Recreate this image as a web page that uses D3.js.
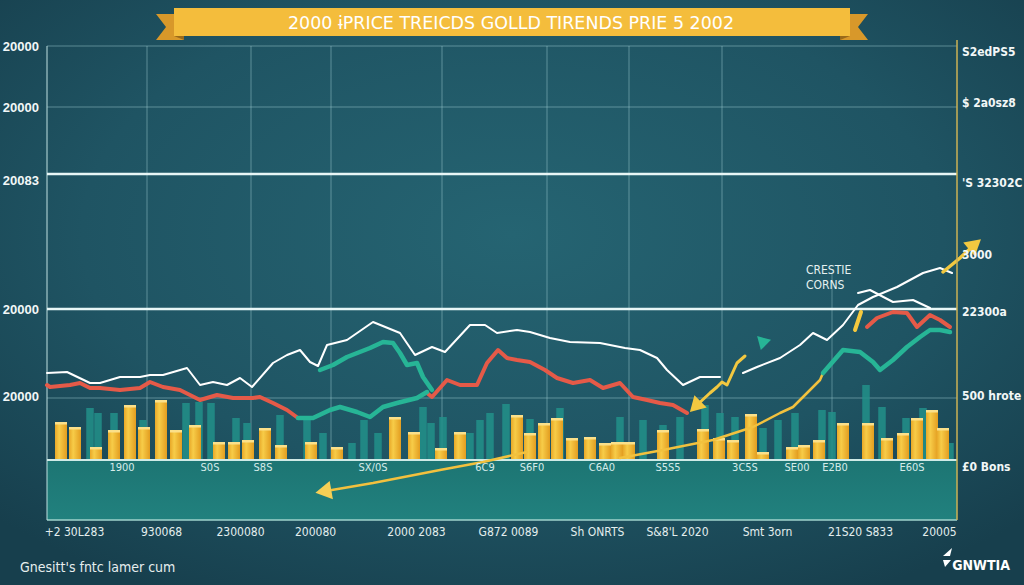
<!DOCTYPE html>
<meta charset="utf-8">
<html>
<head>
<style>
  html, body { margin: 0; padding: 0; background: #1b4755; }
  svg { display: block; }
  text { font-family: "DejaVu Sans Condensed", "Liberation Sans Narrow", "Roboto", sans-serif; }
</style>
</head>
<body>
<div id="chart"></div>
<script src="https://d3js.org/d3.v7.min.js"></script>
<script>
// chart data (period = x unit, value = y unit)
let titleText = '2000 \u0268PRICE TREICDS GOLLD TIRENDS PRIE 5 2002';
let leftTicks = ['20000', '20000', '20083', '20000', '20000'];
let leftTickValues = [2070, 1765, 1400, 755, 320];
let rightTicks = ['S2edPS5', '$ 2a0sz8', "'S 32302C", '3000', '22300a', '500 hrote', '\u00a30 Bons'];
let rightTickValues = [2040, 1785, 1385, 1025, 740, 320, -35];
let bottomLabels = ['+2 30L283', '930068', '2300080', '200080', '2000 2083', 'G872 0089',
                    'Sh ONRTS', 'S&8\'L 2020', 'Smt 3orn', '21S20 S833', '20005'];
let bottomPeriods = [2.7, 11.4, 19.3, 26.8, 36.9, 46.1, 55, 63, 72, 81.3, 89.2];
let bandLabels = ['1900', 'S0S', 'S8S', 'SX/0S', '6C9', 'S6F0', 'C6A0', 'S5S5', '3C5S', 'SE00', 'E2B0', 'E60S'];
let bandPeriods = [7.5, 16.3, 21.6, 32.6, 43.8, 48.5, 55.5, 62.1, 69.8, 75, 78.8, 86.5];
let gridPeriods = [0, 10, 20.4, 28.4, 39.5, 50, 58.2, 67.5];
let gridValues = [2070, 1765, 1430, 755, 310];

let yellowBars = [
  [1.4, 190], [2.8, 165], [4.9, 65], [6.7, 150], [8.3, 275], [9.7, 165], [11.4, 300], [12.9, 150],
  [14.8, 175], [17.2, 90], [18.7, 90], [20.1, 100], [21.8, 160], [23.4, 75], [26.4, 90], [29.0, 65],
  [34.8, 215], [36.7, 140], [39.4, 60], [41.3, 140], [47.0, 225], [48.3, 135], [49.7, 185], [51.0, 210],
  [52.5, 110], [54.3, 115], [55.8, 85], [57.0, 90], [58.2, 90], [61.6, 150], [65.6, 155], [67.2, 110],
  [68.6, 100], [70.4, 230], [71.6, 40], [74.5, 65], [75.7, 75], [77.2, 100], [79.6, 185], [82.1, 185],
  [84.0, 110], [85.6, 135], [87.0, 210], [88.5, 250], [89.6, 160]
];
let tealBars = [
  [4.3, 260], [5.1, 235], [6.7, 235], [9.6, 200], [13.9, 285], [15.2, 290], [16.4, 285], [18.9, 210],
  [20.0, 185], [23.3, 225], [26.0, 210], [27.6, 135], [30.5, 85], [31.7, 200], [33.1, 135], [37.6, 265],
  [38.4, 185], [39.6, 215], [42.3, 135], [43.3, 200], [44.3, 235], [45.9, 280], [48.3, 205], [51.3, 260],
  [57.3, 215], [59.6, 200], [61.6, 175], [63.3, 215], [65.8, 275], [67.3, 235], [68.8, 215], [71.6, 160],
  [73.1, 200], [74.8, 235], [77.5, 250], [78.5, 240], [81.9, 375], [83.5, 265], [85.9, 210], [87.6, 260],
  [90.3, 85]
];

let whiteA = [[0, 435], [2.0, 440], [4.3, 385], [5.3, 385], [7.3, 415], [9.3, 415], [10.3, 425], [11.6, 425],
  [14.0, 460], [15.3, 375], [16.6, 390], [18.0, 375], [19.3, 410], [20.5, 365], [22.6, 485], [24.0, 525],
  [25.3, 550], [26.3, 490], [27.1, 470], [28.0, 575], [30.0, 600], [32.6, 690], [35.3, 635], [36.8, 525],
  [38.5, 565], [39.8, 540], [42.3, 675], [43.8, 675], [45.0, 635], [47.0, 650], [48.3, 640], [50.3, 610],
  [52.3, 590], [55.3, 585], [57.8, 560], [59.3, 550], [61.0, 510], [62.0, 450], [63.6, 375], [65.3, 415],
  [67.3, 415]];
let whiteB = [[69.6, 435], [71.0, 465], [73.3, 510], [75.3, 575], [76.6, 635], [78.0, 600], [79.6, 675],
  [81.1, 775], [82.6, 815], [85.0, 865], [87.6, 935], [89.3, 960], [90.5, 935]];
let whiteC = [[81.1, 835], [82.3, 850], [84.6, 790], [86.6, 800], [88.3, 760]];
let redA = [[0, 375], [0.3, 365], [2.3, 375], [3.3, 385], [4.3, 360], [5.3, 360], [7.3, 350], [9.3, 360],
  [10.3, 390], [11.6, 365], [13.3, 350], [15.3, 300], [17.0, 325], [18.6, 310], [20.6, 310], [21.3, 315],
  [22.6, 285], [24.0, 250], [25.1, 210]];
let redB = [[38.0, 335], [38.5, 315], [40.0, 400], [41.3, 375], [43.0, 375], [44.0, 485], [45.1, 550],
  [46.0, 510], [47.0, 500], [48.3, 490], [49.8, 450], [51.0, 410], [52.6, 385], [54.3, 400], [55.6, 360],
  [57.3, 385], [58.6, 315], [60.0, 300], [61.3, 285], [62.6, 275], [64.0, 235]];
let redC = [[82.0, 665], [83.0, 710], [84.6, 740], [86.0, 735], [87.0, 665], [88.3, 725], [89.3, 700], [90.3, 665]];
let tealA = [[25.1, 210], [26.6, 210], [28.3, 250], [29.3, 265], [31.0, 240], [32.3, 215], [33.6, 265],
  [35.0, 285], [37.0, 310], [38.0, 340]];
let tealB = [[27.3, 450], [28.6, 475], [30.0, 515], [32.3, 560], [33.6, 590], [34.6, 585], [35.3, 535],
  [36.0, 475], [37.0, 485], [37.6, 415], [38.5, 350]];
let tealC = [[77.6, 435], [79.6, 550], [81.3, 540], [82.6, 490], [83.3, 450], [84.6, 500], [86.0, 565],
  [87.3, 615], [88.3, 650], [89.3, 650], [90.3, 640]];
let trendA = [[27.9, -155], [32.6, -115], [39.3, -50], [43.6, -10], [48.0, 40]];
let trendB = [[57.3, 10], [61.6, 50], [66.6, 100], [70.6, 165], [73.3, 235], [74.6, 265], [77.3, 400], [77.6, 435]];
let zigzag = [[65.0, 275], [66.3, 335], [67.0, 365], [67.5, 390], [68.0, 375], [69.0, 485], [69.8, 520]];
let spike = [[80.8, 650], [81.4, 740]];
let rightArrow = [[89.6, 940], [91.3, 1010], [92.6, 1070]];

// layout
let svgWidth = 1024;
let svgHeight = 585;
let plotLeft = 47, plotRight = 957, plotTop = 46, baseY = 460, bandBottom = 520;

let x = d3.scaleLinear().domain([0, 91]).range([plotLeft, plotRight]);
let y = d3.scaleLinear().domain([0, 2070]).range([baseY, plotTop]);

let svg = d3.select('#chart').append('svg')
  .attr('width', svgWidth)
  .attr('height', svgHeight);

let defs = svg.append('defs');
let bg = defs.append('radialGradient').attr('id', 'bg').attr('cx', '50%').attr('cy', '40%').attr('r', '70%');
bg.append('stop').attr('offset', '0%').attr('stop-color', '#256472');
bg.append('stop').attr('offset', '60%').attr('stop-color', '#1f5463');
bg.append('stop').attr('offset', '100%').attr('stop-color', '#173f4d');
let gold = defs.append('linearGradient').attr('id', 'gold').attr('x1', 0).attr('x2', 1).attr('y1', 0).attr('y2', 0);
gold.append('stop').attr('offset', '0%').attr('stop-color', '#e8a828');
gold.append('stop').attr('offset', '35%').attr('stop-color', '#f7cc48');
gold.append('stop').attr('offset', '100%').attr('stop-color', '#e39d20');
let band = defs.append('linearGradient').attr('id', 'band').attr('x1', 0).attr('x2', 0).attr('y1', 0).attr('y2', 1);
band.append('stop').attr('offset', '0%').attr('stop-color', '#1d7573');
band.append('stop').attr('offset', '100%').attr('stop-color', '#21817e');

svg.append('rect').attr('width', svgWidth).attr('height', svgHeight).attr('fill', 'url(#bg)');

// band below baseline
svg.append('rect')
  .attr('x', plotLeft).attr('y', baseY)
  .attr('width', plotRight - plotLeft).attr('height', bandBottom - baseY)
  .attr('fill', 'url(#band)');
svg.append('line').attr('x1', plotLeft).attr('x2', plotRight).attr('y1', bandBottom).attr('y2', bandBottom)
  .attr('stroke', '#9fd3cc').attr('stroke-width', 1.5);

// grid
let grid = svg.append('g');
grid.selectAll('.vg').data(gridPeriods).enter().append('line')
  .attr('x1', d => x(d)).attr('x2', d => x(d))
  .attr('y1', plotTop).attr('y2', d => d === 0 ? bandBottom : baseY)
  .attr('stroke', d => d === 0 ? '#bfe0e0' : 'rgba(170,215,220,0.45)')
  .attr('stroke-width', 1);
grid.append('line').attr('x1', x(78.5)).attr('x2', x(78.5)).attr('y1', y(930)).attr('y2', baseY)
  .attr('stroke', 'rgba(170,215,220,0.4)');
grid.selectAll('.hg').data(gridValues).enter().append('line')
  .attr('x1', plotLeft).attr('x2', plotRight)
  .attr('y1', d => y(d)).attr('y2', d => y(d))
  .attr('stroke', (d, i) => (i === 2 || i === 3) ? '#e8f6f6' : 'rgba(170,215,220,0.45)')
  .attr('stroke-width', (d, i) => (i === 2 || i === 3) ? 2.5 : 1);

// bars
let bw = x(1.2) - x(0);
let tw = x(0.75) - x(0);
svg.append('g').selectAll('rect').data(tealBars).enter().append('rect')
  .attr('x', d => x(d[0]) - tw / 2).attr('y', d => y(d[1]))
  .attr('width', tw).attr('height', d => y(0) - y(d[1]))
  .attr('fill', '#22918a').attr('opacity', 0.85);
svg.append('g').selectAll('rect').data(yellowBars).enter().append('rect')
  .attr('x', d => x(d[0]) - bw / 2).attr('y', d => y(d[1]))
  .attr('width', bw).attr('height', d => y(0) - y(d[1]))
  .attr('fill', 'url(#gold)');
svg.append('g').selectAll('rect').data(yellowBars).enter().append('rect')
  .attr('x', d => x(d[0]) - bw / 2).attr('y', d => y(d[1]))
  .attr('width', bw).attr('height', 2.5)
  .attr('fill', '#fbe08a');

svg.append('line').attr('x1', plotLeft).attr('x2', plotRight).attr('y1', baseY).attr('y2', baseY)
  .attr('stroke', '#cfeae6').attr('stroke-width', 2);

// lines
let line = d3.line().x(d => x(d[0])).y(d => y(d[1]));
function drawLine(data, color, w) {
  svg.append('path').datum(data)
    .attr('d', line)
    .attr('fill', 'none')
    .attr('stroke', color)
    .attr('stroke-width', w)
    .attr('stroke-linejoin', 'round')
    .attr('stroke-linecap', 'round');
}
drawLine(trendA, '#f2c13e', 2.5);
drawLine(trendB, '#f2c13e', 2.5);
drawLine(redA, '#e55a48', 4);
drawLine(redB, '#e55a48', 4);
drawLine(redC, '#e55a48', 4);
drawLine(tealA, '#27b596', 4.5);
drawLine(tealB, '#27b596', 4.5);
drawLine(tealC, '#27b596', 4.5);
drawLine(whiteA, '#ffffff', 2);
drawLine(whiteB, '#ffffff', 2);
drawLine(whiteC, '#ffffff', 2);
drawLine(zigzag, '#f2c840', 3);
drawLine(spike, '#f5c93e', 4);
drawLine(rightArrow, '#f2c840', 3.5);

// arrow heads
function arrowHead(p, angle, color, size) {
  svg.append('path')
    .attr('d', d3.symbol().type(d3.symbolTriangle).size(size))
    .attr('transform', `translate(${x(p[0])},${y(p[1])}) rotate(${angle})`)
    .attr('fill', color);
}
arrowHead(trendA[0], -100, '#f6cf55', 150);
arrowHead(zigzag[0], -135, '#f2c840', 130);
arrowHead([71.6, 590], 75, '#27b596', 90);
arrowHead(rightArrow[2], 50, '#f2c840', 140);

// left axis labels
let leftAxis = svg.append('g')
  .attr('transform', `translate(${plotLeft - 5},0)`)
  .call(d3.axisLeft(y).tickValues(leftTickValues).tickFormat((d, i) => leftTicks[i]).tickSize(0));
leftAxis.select('.domain').remove();
leftAxis.selectAll('text')
  .attr('fill', '#f2f7f7').attr('font-size', 13).attr('font-weight', 'bold')
  .style('font-family', '"Liberation Sans", Arial, sans-serif');

// right axis
svg.append('line').attr('x1', plotRight).attr('x2', plotRight).attr('y1', 40).attr('y2', bandBottom)
  .attr('stroke', '#cdb255').attr('stroke-width', 1.5);
let rightAxis = svg.append('g')
  .attr('transform', `translate(${plotRight + 2},0)`)
  .call(d3.axisRight(y).tickValues(rightTickValues).tickFormat((d, i) => rightTicks[i]).tickSize(0));
rightAxis.select('.domain').remove();
rightAxis.selectAll('text')
  .attr('fill', '#f2f7f7').attr('font-size', 12).attr('font-weight', 'bold');

// bottom axis
let bottomAxis = svg.append('g')
  .attr('transform', `translate(0,${bandBottom + 4})`)
  .call(d3.axisBottom(x).tickValues(bottomPeriods).tickFormat((d, i) => bottomLabels[i]).tickSize(0));
bottomAxis.select('.domain').remove();
bottomAxis.selectAll('text')
  .attr('fill', '#e3eeee').attr('font-size', 12);

// band labels
svg.append('g').selectAll('text').data(bandLabels).enter().append('text')
  .attr('x', (d, i) => x(bandPeriods[i])).attr('y', baseY + 11)
  .attr('text-anchor', 'middle')
  .attr('fill', '#d5ecea').attr('font-size', 11)
  .text(d => d);

// annotation
svg.append('text').attr('x', 806).attr('y', 274).attr('fill', '#e6f1f1').attr('font-size', 12).text('CRESTIE');
svg.append('text').attr('x', 806).attr('y', 289).attr('fill', '#e6f1f1').attr('font-size', 12).text('CORNS');

// title banner
let banner = svg.append('g');
banner.append('path').attr('d', 'M156,14 L184,14 L184,40 L156,40 L166,27 Z').attr('fill', '#d8982a');
banner.append('path').attr('d', 'M868,14 L840,14 L840,40 L868,40 L858,27 Z').attr('fill', '#d8982a');
banner.append('path').attr('d', 'M174,36 L184,40 L184,36 Z').attr('fill', '#9a6a1a');
banner.append('path').attr('d', 'M850,36 L840,40 L840,36 Z').attr('fill', '#9a6a1a');
banner.append('rect').attr('x', 174).attr('y', 8).attr('width', 676).attr('height', 28).attr('fill', '#f4bd3c');
banner.append('text')
  .attr('x', 511).attr('y', 29)
  .attr('text-anchor', 'middle')
  .attr('fill', '#ffffff').attr('font-size', 18)
  .attr('textLength', 446).attr('lengthAdjust', 'spacingAndGlyphs')
  .text(titleText);

// footer
svg.append('text').attr('x', 20).attr('y', 572).attr('fill', '#e6eeee').attr('font-size', 14)
  .text("Gnesitt's fntc lamer cum");
svg.append('text').attr('x', 1010).attr('y', 570).attr('text-anchor', 'end')
  .attr('fill', '#ffffff').attr('font-size', 14).attr('font-weight', 'bold')
  .text('GNWTIA');
svg.append('path').attr('d', 'M943,556 L952,548 L950,556 Z M943,560 L951,560 L945,567 Z').attr('fill', '#ffffff');
</script>
</body>
</html>
